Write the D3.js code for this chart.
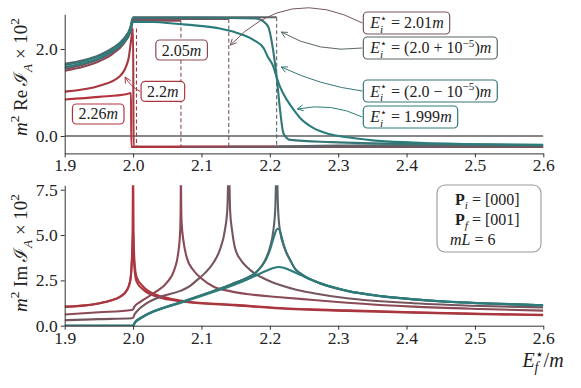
<!DOCTYPE html>
<html>
<head>
<meta charset="utf-8">
<script src="https://cdn.jsdelivr.net/npm/d3@7"></script>
<style>
  body { margin: 0; background: #fff; }
  svg { display: block; font-family: "Liberation Serif", "DejaVu Serif", serif; }
  .axis path, .axis line { stroke: #333; stroke-width: 1; }
  .axis text { font-size: 17.5px; fill: #222; font-family: "Liberation Serif", serif; }
</style>
</head>
<body>
<script>
// ---------- data ----------
var xTicks = [1.9, 2.0, 2.1, 2.2, 2.3, 2.4, 2.5, 2.6];
var reTicks = [0.0, 2.0];
var imTicks = [0.0, 2.5, 5.0, 7.5];

// Re part, [E_f/m, m^2 Re I_A x 10^2]; null = break in the line
var reI226 = [[1.9,0.84],[1.95,0.9],[1.99,0.96],[1.997,0.99],[1.9975,-0.25],[2.6,-0.25]];
var reI22 = [[1.9,1.02],[1.952,1.16],[1.981,1.38],[1.993,1.75],[1.998,2.3],[2.0,2.47],[2.0008,-0.25],[2.6,-0.25]];
var reI205 = [[1.9,1.5],[1.927,1.59],[1.952,1.73],[1.971,1.9],[1.986,2.12],[1.996,2.4],[2.0,2.65],[2.07,2.65],
  [2.07,null],[2.0701,-0.25],[2.6,-0.25]];
var reI201 = [[1.9,1.55],[1.927,1.64],[1.952,1.78],[1.971,1.95],[1.986,2.16],[1.996,2.44],[2.0,2.69],[2.14,2.69],
  [2.14,null],[2.1401,-0.25],[2.6,-0.25]];
var reIplus = [[1.9,1.66],[1.927,1.74],[1.952,1.87],[1.971,2.03],[1.986,2.23],[1.996,2.49],[2.0,2.73],[2.21,2.73],
  [2.21,null],[2.2101,-0.25],[2.3,-0.22],[2.6,-0.21]];
var reIminus = [[1.9,1.63],[1.927,1.72],[1.952,1.85],[1.971,2.01],[1.986,2.21],[1.996,2.47],[2.0,2.72],[2.1,2.72],
  [2.18,2.7],[2.19,2.64],[2.198,2.5],[2.203,2.15],[2.21,1.36],[2.215,0.6],[2.22,0.06],[2.23,-0.09],[2.29,-0.14],
  [2.4,-0.18],[2.6,-0.2]];
var reI1999 = [[1.9,1.58],[1.927,1.67],[1.952,1.8],[1.971,1.96],[1.986,2.15],[1.996,2.4],[2.0,2.63],[2.03,2.62],
  [2.078,2.56],[2.127,2.47],[2.152,2.37],[2.176,2.21],[2.191,2.02],[2.196,1.85],[2.205,1.6],[2.21,1.35],[2.215,1.13],
  [2.225,0.83],[2.235,0.6],[2.244,0.42],[2.264,0.18],[2.288,0.04],[2.313,-0.03],[2.35,-0.1],[2.41,-0.15],[2.5,-0.19],[2.6,-0.21]];

// dashed jumps in the Re part
var jumpE = [2.005, 2.07, 2.14, 2.21];
var jumpTop = [2.47, 2.65, 2.69, 2.73];
var jumpBottom = -0.25;
var jumpSeries = ["2.2", "2.05", "2.01", "2.0+1e-5"];

// Im part, [E_f/m, m^2 Im I_A x 10^2]
var imI226 = [[1.9,1.05],[1.942,1.18],[1.966,1.38],[1.981,1.6],[1.991,1.97],[1.996,2.52],[1.998,3.44],[1.9993,5.2],
  [2.0,9],[2.0007,5.2],[2.002,3.6],[2.005,2.7],[2.015,2.15],[2.035,1.69],[2.059,1.46],[2.083,1.32],[2.15,1.15],
  [2.215,0.98],[2.313,0.85],[2.41,0.74],[2.508,0.66],[2.6,0.6]];
var imI22 = [[1.9,1.04],[1.942,1.17],[1.966,1.37],[1.981,1.59],[1.991,1.95],[1.996,2.5],[1.998,3.4],[1.9995,4.6],
  [2.0,5.2],[2.0006,4.2],[2.002,3.2],[2.005,2.45],[2.015,1.98],[2.035,1.6],[2.059,1.4],[2.083,1.28],[2.15,1.12],
  [2.215,0.95],[2.313,0.82],[2.41,0.72],[2.508,0.64],[2.6,0.58]];
var imI205 = [[1.9,0.62],[1.95,0.74],[1.998,0.87],[2.0,0.9],[2.002,1.05],[2.01,1.3],[2.03,1.79],[2.05,2.4],[2.06,3.05],
  [2.066,4.0],[2.069,5.3],[2.0697,7],[2.07,9],[2.0703,7],[2.071,5.7],[2.074,4.6],[2.079,3.7],[2.088,3.07],[2.1,2.6],
  [2.118,2.15],[2.14,1.92],[2.166,1.75],[2.215,1.57],[2.264,1.42],[2.313,1.27],[2.41,1.05],[2.508,0.92],[2.6,0.83]];
var imI201 = [[1.9,0.3],[1.95,0.36],[1.998,0.41],[2.0,0.43],[2.002,0.62],[2.005,0.77],[2.02,1.24],[2.04,1.6],[2.069,1.92],
  [2.083,2.18],[2.093,2.5],[2.105,2.9],[2.118,3.5],[2.128,4.3],[2.134,5.2],[2.138,6.5],[2.14,9],[2.142,6.3],[2.145,5.2],
  [2.149,4.3],[2.158,3.6],[2.166,3.25],[2.196,2.52],[2.215,2.24],[2.24,1.97],[2.264,1.79],[2.313,1.51],[2.41,1.24],
  [2.508,1.09],[2.6,1.01]];
var imIplus = [[1.9,0],[2.0,0],[2.003,0.2],[2.01,0.4],[2.02,0.62],[2.04,0.93],[2.07,1.3],[2.1,1.68],[2.13,2.08],
  [2.15,2.38],[2.166,2.62],[2.18,2.95],[2.193,3.6],[2.2,4.3],[2.205,5.2],[2.208,6.5],[2.21,9],[2.212,6.5],[2.215,5.2],
  [2.222,4.25],[2.23,3.6],[2.237,3.14],[2.244,2.9],[2.266,2.45],[2.313,1.92],[2.362,1.63],[2.41,1.45],[2.459,1.32],
  [2.508,1.24],[2.6,1.13]];
var imIminus = [[1.9,0],[2.0,0],[2.003,0.2],[2.01,0.4],[2.02,0.62],[2.04,0.93],[2.07,1.3],[2.1,1.68],[2.13,2.08],
  [2.15,2.38],[2.166,2.62],[2.18,2.95],[2.193,3.55],[2.2,4.15],[2.206,4.9],[2.211,5.35],[2.214,5.3],[2.218,4.8],
  [2.222,4.25],[2.23,3.6],[2.237,3.14],[2.244,2.9],[2.266,2.45],[2.313,1.92],[2.362,1.63],[2.41,1.45],[2.459,1.32],
  [2.508,1.24],[2.6,1.13]];
var imI1999 = [[1.9,0],[2.0,0],[2.003,0.18],[2.01,0.38],[2.02,0.6],[2.04,0.91],[2.07,1.27],[2.1,1.64],[2.13,2.02],
  [2.149,2.27],[2.166,2.53],[2.178,2.74],[2.195,3.03],[2.205,3.18],[2.213,3.24],[2.22,3.2],[2.227,3.1],[2.237,2.93],
  [2.247,2.76],[2.266,2.45],[2.313,1.93],[2.362,1.64],[2.41,1.46],[2.459,1.33],[2.508,1.24],[2.6,1.12]];

var seriesKeys = ["2.26", "2.2", "2.05", "2.01", "2.0+1e-5", "2.0-1e-5", "1.999"];
var reSeries = [reI226, reI22, reI205, reI201, reIplus, reIminus, reI1999];
var imSeries = [imI226, imI22, imI205, imI201, imIplus, imIminus, imI1999];

// ---------- style ----------
var color = {
  "2.26": "#b3323c",
  "2.2": "#a8373f",
  "2.05": "#8b4a55",
  "2.01": "#76565e",
  "2.0+1e-5": "#5b6568",
  "2.0-1e-5": "#367677",
  "1.999": "#2b7c7a"
};

var W = 581, H = 388;
var svg = d3.select("body").append("svg").attr("width", W).attr("height", H);

var x = d3.scaleLinear().domain([1.9, 2.6]).range([64.7, 543.3]);
var yRe = d3.scaleLinear().domain([-0.4, 2.8]).range([153.4, 14.2]);
var yIm = d3.scaleLinear().domain([0, 7.75]).range([325.7, 185.2]);

var defs = svg.append("defs");
function clip(id, y0, y1) {
  defs.append("clipPath").attr("id", id).append("rect")
    .attr("x", x.range()[0]).attr("y", y1)
    .attr("width", x.range()[1] - x.range()[0]).attr("height", y0 - y1);
}
clip("clipRe", yRe.range()[0], yRe.range()[1]);
clip("clipIm", yIm.range()[0], yIm.range()[1]);

// ---------- math text helper ----------
function mathText(g, px, py, parts, fs, anchor) {
  var t = g.append("text").attr("x", px).attr("y", py)
    .attr("text-anchor", anchor || "start")
    .style("font-size", fs + "px").attr("fill", "#222");
  var cur = 0, pending = 0;
  var small = fs * 0.7, supShift = fs * 0.42, subShift = fs * 0.26;
  parts.forEach(function (p) {
    if (p.sup !== undefined || p.sub !== undefined) {
      var ls = 0, lb = 0;
      if (p.sup !== undefined) {
        var s = t.append("tspan").attr("dx", pending).attr("dy", -supShift - cur)
          .style("font-size", small + "px").text(p.sup);
        pending = 0;
        cur = -supShift;
        ls = s.node().getComputedTextLength();
      }
      if (p.sub !== undefined) {
        var b = t.append("tspan").attr("dx", (p.sup !== undefined ? -ls : 0) + pending)
          .attr("dy", subShift - cur)
          .style("font-size", small + "px")
          .style("font-style", p.it ? "italic" : "normal").text(p.sub);
        pending = 0;
        cur = subShift;
        lb = b.node().getComputedTextLength();
      }
      if (p.sup !== undefined && p.sub !== undefined && lb < ls) pending = ls - lb;
    } else {
      var n = t.append("tspan").attr("dx", pending).attr("dy", -cur).text(p.t);
      pending = 0;
      cur = 0;
      if (p.it) n.style("font-style", "italic");
      if (p.bold) n.style("font-weight", "bold");
      if (p.fam) n.style("font-family", p.fam);
    }
  });
  return t;
}

// ---------- lines ----------
var lineRe = d3.line().defined(function (d) { return d[1] !== null; })
  .x(function (d) { return x(d[0]); }).y(function (d) { return yRe(d[1]); })
  .curve(d3.curveMonotoneX);
var lineIm = d3.line()
  .x(function (d) { return x(d[0]); }).y(function (d) { return yIm(d[1]); })
  .curve(d3.curveMonotoneX);

var gRe = svg.append("g").attr("clip-path", "url(#clipRe)");
var gIm = svg.append("g").attr("clip-path", "url(#clipIm)");

// horizontal zero line (top panel)
gRe.append("line")
  .attr("x1", x(1.9)).attr("x2", x(2.6)).attr("y1", yRe(0)).attr("y2", yRe(0))
  .attr("stroke", "#111").attr("stroke-width", 1.2);

jumpE.forEach(function (e, i) {
  gRe.append("line")
    .attr("x1", x(e)).attr("x2", x(e))
    .attr("y1", yRe(jumpTop[i])).attr("y2", yRe(jumpBottom))
    .attr("stroke", color[jumpSeries[i]]).attr("stroke-width", 1.1)
    .attr("stroke-dasharray", "4,2.5");
});

seriesKeys.forEach(function (k, i) {
  gRe.append("path").datum(reSeries[i]).attr("d", lineRe)
    .attr("fill", "none").attr("stroke", color[k]).attr("stroke-width", 2.1)
    .attr("stroke-linejoin", "round");
  gIm.append("path").datum(imSeries[i]).attr("d", lineIm)
    .attr("fill", "none").attr("stroke", color[k]).attr("stroke-width", 2.1)
    .attr("stroke-linejoin", "round");
});

// ---------- axes ----------
var fmt = d3.format(".1f");
svg.append("g").attr("class", "axis").attr("transform", "translate(0," + yRe.range()[0] + ")")
  .call(d3.axisBottom(x).tickValues(xTicks).tickFormat(fmt).tickSize(4).tickSizeOuter(0).tickPadding(1));
svg.append("g").attr("class", "axis").attr("transform", "translate(" + x.range()[0] + ",0)")
  .call(d3.axisLeft(yRe).tickValues(reTicks).tickFormat(fmt).tickSize(4).tickSizeOuter(0).tickPadding(3));
svg.append("g").attr("class", "axis").attr("transform", "translate(0," + yIm.range()[0] + ")")
  .call(d3.axisBottom(x).tickValues(xTicks).tickFormat(fmt).tickSize(4).tickSizeOuter(0).tickPadding(2));
svg.append("g").attr("class", "axis").attr("transform", "translate(" + x.range()[0] + ",0)")
  .call(d3.axisLeft(yIm).tickValues(imTicks).tickFormat(fmt).tickSize(4).tickSizeOuter(0).tickPadding(3));

// axis titles
var ylab1 = svg.append("g").attr("transform", "translate(27," + 77 + ") rotate(-90)");
mathText(ylab1, 0, 0, [{t: "m", it: 1}, {sup: "2"}, {t: " Re\u2009"}, {t: "\u2110", fam: "DejaVu Serif"}, {sub: "A", it: 1},
  {t: " \u00d7 10"}, {sup: "2"}], 19, "middle");
var ylab2 = svg.append("g").attr("transform", "translate(27," + 253 + ") rotate(-90)");
mathText(ylab2, 0, 0, [{t: "m", it: 1}, {sup: "2"}, {t: " Im\u2009"}, {t: "\u2110", fam: "DejaVu Serif"}, {sub: "A", it: 1},
  {t: " \u00d7 10"}, {sup: "2"}], 19, "middle");
mathText(svg, 543, 367, [{t: "E", it: 1}, {sup: "\u22c6", sub: "f", it: 1}, {t: "/"}, {t: "m", it: 1}], 20, "middle");

// ---------- annotation boxes ----------
function eLabel(rest) {
  return [{t: "E", it: 1}, {sup: "\u22c6", sub: "i", it: 1}].concat(rest);
}
var labels = [
  {key: "2.01", x: 2.347, y: 2.598, anchor: "start", h: 22,
    parts: eLabel([{t: " = 2.01"}, {t: "m", it: 1}]), target: [2.1423, 2.09], rad: 0.38},
  {key: "2.0+1e-5", x: 2.347, y: 2.023, anchor: "start", h: 22,
    parts: eLabel([{t: " = (2.0 + 10"}, {sup: "\u22125"}, {t: ")"}, {t: "m", it: 1}]), target: [2.2168, 2.39], rad: -0.17},
  {key: "2.0-1e-5", x: 2.347, y: 1.034, anchor: "start", h: 22,
    parts: eLabel([{t: " = (2.0 \u2212 10"}, {sup: "\u22125"}, {t: ")"}, {t: "m", it: 1}]), target: [2.2168, 1.586], rad: -0.08},
  {key: "1.999", x: 2.347, y: 0.437, anchor: "start", h: 22,
    parts: eLabel([{t: " = 1.999"}, {t: "m", it: 1}]), target: [2.2402, 0.62], rad: 0.17},
  {key: "2.05", x: 2.071, y: 1.977, anchor: "middle", h: 20, parts: [{t: "2.05"}, {t: "m", it: 1}]},
  {key: "2.2", x: 2.0436, y: 1.025, anchor: "middle", h: 20, parts: [{t: "2.2"}, {t: "m", it: 1}],
    target: [1.9883, 1.356], rad: -0.15},
  {key: "2.26", x: 1.949, y: 0.506, anchor: "middle", h: 20, parts: [{t: "2.26"}, {t: "m", it: 1}]}
];

var gLab = svg.append("g");
labels.forEach(function (L) {
  var g = gLab.append("g");
  var cy = yRe(L.y);
  var rect = g.append("rect");
  var t = mathText(g, x(L.x), cy + 5.5, L.parts, 16, L.anchor);
  var bb = t.node().getBBox();
  var bx = bb.x - 6, bw = bb.width + 12;
  rect.attr("x", bx).attr("y", cy - L.h / 2).attr("width", bw).attr("height", L.h)
    .attr("rx", 4).attr("fill", "#fff").attr("stroke", color[L.key]).attr("stroke-width", 1.2);
  if (L.target) {
    var sx = bx - 1, sy = cy;
    var ex = x(L.target[0]), ey = yRe(L.target[1]);
    var dx = ex - sx, dy = ey - sy;
    var cx = (sx + ex) / 2 - L.rad * dy, cyy = (sy + ey) / 2 + L.rad * dx;
    gLab.insert("path", ":first-child")
      .attr("d", "M" + sx + "," + sy + "Q" + cx + "," + cyy + " " + ex + "," + ey)
      .attr("fill", "none").attr("stroke", color[L.key]).attr("stroke-width", 1);
    var ux = ex - cx, uy = ey - cyy, n = Math.sqrt(ux * ux + uy * uy);
    ux /= n; uy /= n;
    var bxp = ex - 6 * ux, byp = ey - 6 * uy;
    gLab.append("path")
      .attr("d", "M" + (bxp - 3 * uy) + "," + (byp + 3 * ux) + "L" + ex + "," + ey + "L" + (bxp + 3 * uy) + "," + (byp - 3 * ux))
      .attr("fill", "none").attr("stroke", color[L.key]).attr("stroke-width", 1);
  }
});

// parameter box (bottom panel)
var gPar = svg.append("g");
gPar.append("rect").attr("x", 437).attr("y", 185).attr("width", 104).attr("height", 67).attr("rx", 8)
  .attr("fill", "#fff").attr("fill-opacity", 0.8).attr("stroke", "#9a9a9a").attr("stroke-width", 1.1);
mathText(gPar, 455, 205, [{t: "P", bold: 1}, {sub: "i", it: 1}, {t: " = [000]"}], 16, "start");
mathText(gPar, 455, 225, [{t: "P", bold: 1}, {sub: "f", it: 1}, {t: " = [001]"}], 16, "start");
mathText(gPar, 450, 245, [{t: "mL", it: 1}, {t: " = 6"}], 16, "start");
</script>
</body>
</html>
